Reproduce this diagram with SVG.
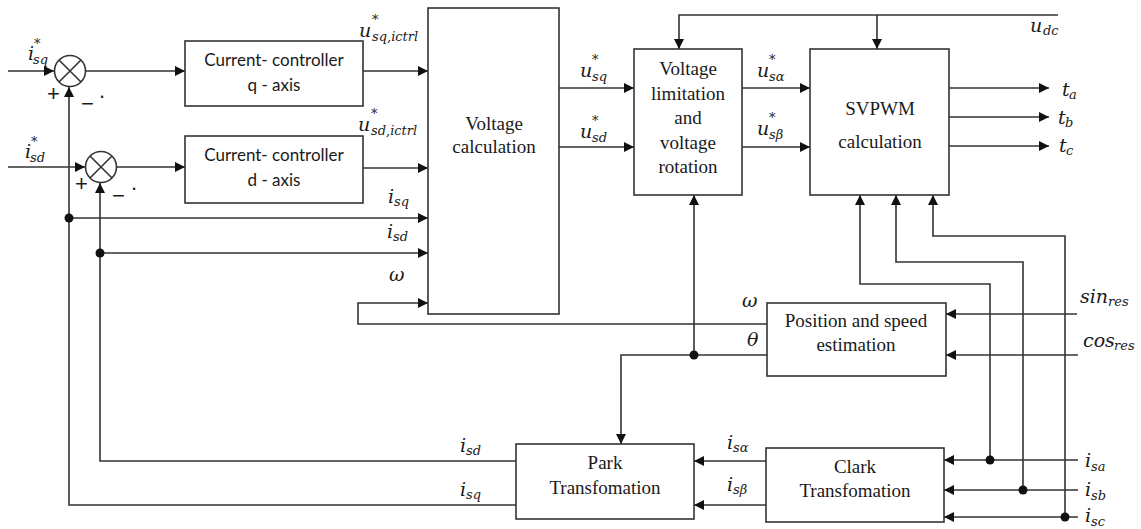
<svg xmlns="http://www.w3.org/2000/svg" width="1141" height="529" viewBox="0 0 1141 529">
<defs>
<style>
.box{fill:#fff;stroke:#333;stroke-width:1.6}
.w{fill:none;stroke:#333;stroke-width:1.6}
.a{marker-end:url(#ah)}
.dot{fill:#111}
.t{font-family:'Liberation Serif',serif;font-size:19px;fill:#1a1a1a;text-anchor:middle}
.s{font-family:Lato,'Liberation Sans',sans-serif;font-size:17px;fill:#1a1a1a;text-anchor:middle}
.m{font-family:'DejaVu Serif',serif;font-style:italic;font-size:19px;fill:#1a1a1a}
.sb{font-size:13px}
.pm{font-family:'Liberation Sans',sans-serif;font-size:22px;fill:#1a1a1a}
</style>
<marker id="ah" viewBox="0 0 10 10" refX="10" refY="5" markerWidth="11" markerHeight="10" markerUnits="userSpaceOnUse" orient="auto">
<path d="M0,0 L10,5 L0,10 z" fill="#111"/>
</marker>
</defs>
<rect width="1141" height="529" fill="#fff"/>

<g id="connectors">
<path class="w a" d="M8,71 H54"/>
<path class="w a" d="M86,71 H185"/>
<path class="w a" d="M363,71 H428"/>
<path class="w a" d="M8,167 H85"/>
<path class="w a" d="M116,167 H185"/>
<path class="w a" d="M363,168 H428"/>
<path class="w a" d="M516,505 H69 V87"/>
<path class="w a" d="M69,218 H428"/>
<path class="w a" d="M516,461 H100 V183"/>
<path class="w a" d="M100,253 H428"/>
<path class="w a" d="M767,324 H358 V303 H428"/>
<path class="w a" d="M767,355 H621 V444"/>
<path class="w a" d="M694,355 V195"/>
<path class="w a" d="M559,88 H634"/>
<path class="w a" d="M559,147 H634"/>
<path class="w a" d="M742,88 H810"/>
<path class="w a" d="M742,147 H810"/>
<path class="w a" d="M1058,15 H679 V49"/>
<path class="w a" d="M877,15 V49"/>
<path class="w a" d="M949,88 H1049"/>
<path class="w a" d="M949,117 H1049"/>
<path class="w a" d="M949,146 H1049"/>
<path class="w a" d="M1077,314 H946"/>
<path class="w a" d="M1078,355 H946"/>
<path class="w a" d="M1078,460 H944"/>
<path class="w a" d="M1078,490 H944"/>
<path class="w a" d="M1078,517 H944"/>
<path class="w a" d="M990,460 V284 H860 V195"/>
<path class="w a" d="M1023,490 V262 H896 V195"/>
<path class="w a" d="M1065,517 V236 H933 V195"/>
<path class="w a" d="M766,461 H694"/>
<path class="w a" d="M766,505 H694"/>
<circle class="dot" cx="69" cy="218" r="4.5"/>
<circle class="dot" cx="100" cy="253" r="4.5"/>
<circle class="dot" cx="694" cy="355" r="4.5"/>
<circle class="dot" cx="990" cy="460" r="4.5"/>
<circle class="dot" cx="1023" cy="490" r="4.5"/>
<circle class="dot" cx="1065" cy="517" r="4.5"/>
</g>

<g id="labels">
<text class="m" x="28" y="60">i<tspan class="sb" x="34" y="48">*</tspan><tspan class="sb" x="33" y="64">sq</tspan></text>
<text class="m" x="25" y="158">i<tspan class="sb" x="31" y="146">*</tspan><tspan class="sb" x="30" y="162">sd</tspan></text>
<text class="m" x="359" y="37">u<tspan class="sb" x="372" y="24">*</tspan><tspan class="sb" x="372" y="41">sq,ictrl</tspan></text>
<text class="m" x="358" y="131">u<tspan class="sb" x="371" y="118">*</tspan><tspan class="sb" x="371" y="135">sd,ictrl</tspan></text>
<text class="m" x="388" y="203">i<tspan class="sb" x="394" y="206">sq</tspan></text>
<text class="m" x="387" y="238">i<tspan class="sb" x="393" y="241">sd</tspan></text>
<text class="m" x="389" y="281">ω</text>
<text class="m" x="580" y="77">u<tspan class="sb" x="592" y="64">*</tspan><tspan class="sb" x="592" y="81">sq</tspan></text>
<text class="m" x="580" y="138">u<tspan class="sb" x="592" y="125">*</tspan><tspan class="sb" x="592" y="142">sd</tspan></text>
<text class="m" x="757" y="77">u<tspan class="sb" x="769" y="64">*</tspan><tspan class="sb" x="769" y="81">sα</tspan></text>
<text class="m" x="757" y="135">u<tspan class="sb" x="769" y="122">*</tspan><tspan class="sb" x="769" y="139">sβ</tspan></text>
<text class="m" x="1030" y="32">u<tspan class="sb" x="1043" y="35">dc</tspan></text>
<text class="m" x="1062" y="96">t<tspan class="sb" x="1069" y="99">a</tspan></text>
<text class="m" x="1058" y="124">t<tspan class="sb" x="1065" y="127">b</tspan></text>
<text class="m" x="1059" y="152">t<tspan class="sb" x="1066" y="155">c</tspan></text>
<text class="m" x="742" y="307">ω</text>
<text class="m" x="747" y="346">θ</text>
<text class="m" x="1080" y="303">sin<tspan class="sb" x="1108" y="306">res</tspan></text>
<text class="m" x="1083" y="347">cos<tspan class="sb" x="1114" y="350">res</tspan></text>
<text class="m" x="727" y="449">i<tspan class="sb" x="733" y="452">sα</tspan></text>
<text class="m" x="727" y="491">i<tspan class="sb" x="733" y="494">sβ</tspan></text>
<text class="m" x="460" y="452">i<tspan class="sb" x="466" y="455">sd</tspan></text>
<text class="m" x="460" y="496">i<tspan class="sb" x="466" y="499">sq</tspan></text>
<text class="m" x="1085" y="467">i<tspan class="sb" x="1091" y="471">sa</tspan></text>
<text class="m" x="1085" y="496">i<tspan class="sb" x="1091" y="500">sb</tspan></text>
<text class="m" x="1085" y="522">i<tspan class="sb" x="1091" y="526">sc</tspan></text>
</g>

<g id="sum-q">
<circle class="box" cx="70" cy="71" r="15.5"/>
<path class="w" d="M59,60 L81,82 M81,60 L59,82"/>
<text class="pm" x="47" y="101">+</text>
<text class="pm" x="81" y="111">−</text>
<text class="pm" x="99" y="98" font-size="10">.</text>
</g>
<g id="sum-d">
<circle class="box" cx="101" cy="167" r="15.5"/>
<path class="w" d="M90,156 L112,178 M112,156 L90,178"/>
<text class="pm" x="75" y="191">+</text>
<text class="pm" x="112" y="203">−</text>
<text class="pm" x="131" y="190" font-size="10">.</text>
</g>

<g id="cc-q">
<rect class="box" x="185" y="41" width="178" height="65"/>
<text class="s" x="274" y="66">Current- controller</text>
<text class="s" x="274" y="91">q - axis</text>
</g>
<g id="cc-d">
<rect class="box" x="185" y="136" width="178" height="67"/>
<text class="s" x="274" y="161">Current- controller</text>
<text class="s" x="274" y="186">d - axis</text>
</g>
<g id="voltage-calc">
<rect class="box" x="428" y="8" width="131" height="306"/>
<text class="t" x="494" y="130">Voltage</text>
<text class="t" x="494" y="153">calculation</text>
</g>
<g id="voltage-lim">
<rect class="box" x="634" y="49" width="108" height="146"/>
<text class="t" x="688" y="75">Voltage</text>
<text class="t" x="688" y="100">limitation</text>
<text class="t" x="688" y="124">and</text>
<text class="t" x="688" y="149">voltage</text>
<text class="t" x="688" y="173">rotation</text>
</g>
<g id="svpwm">
<rect class="box" x="810" y="49" width="139" height="146"/>
<text class="t" x="880" y="115">SVPWM</text>
<text class="t" x="880" y="148">calculation</text>
</g>
<g id="pos-speed">
<rect class="box" x="767" y="303" width="179" height="73"/>
<text class="t" x="856" y="327">Position and speed</text>
<text class="t" x="856" y="351">estimation</text>
</g>
<g id="park">
<rect class="box" x="516" y="444" width="178" height="75"/>
<text class="t" x="605" y="469">Park</text>
<text class="t" x="605" y="494">Transfomation</text>
</g>
<g id="clark">
<rect class="box" x="766" y="448" width="178" height="74"/>
<text class="t" x="855" y="473">Clark</text>
<text class="t" x="855" y="497">Transfomation</text>
</g>
</svg>
